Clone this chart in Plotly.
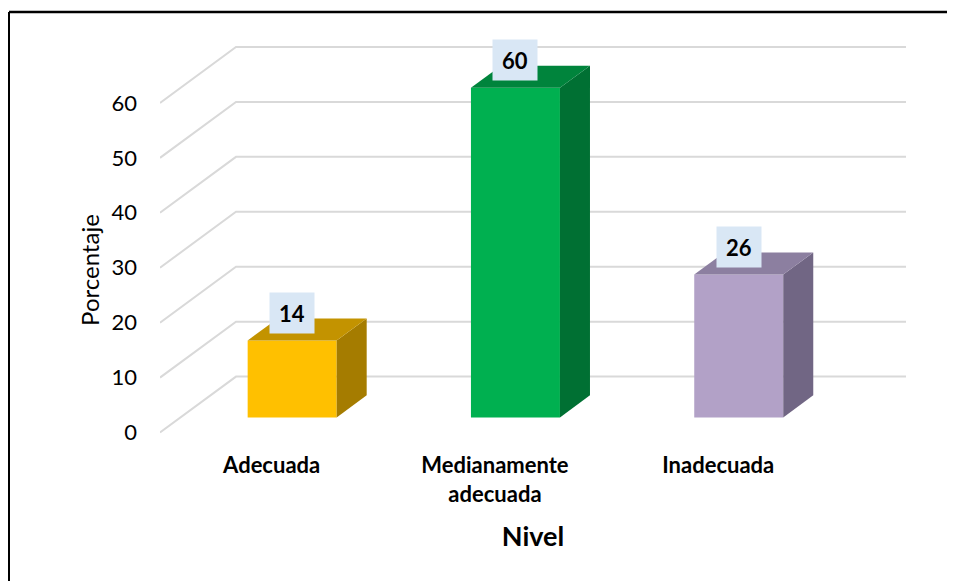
import plotly.graph_objects as go

categories = ["Adecuada", "Medianamente<br>adecuada", "Inadecuada"]
values = [14, 60, 26]
front_colors = ["#FFC000", "#00B050", "#B2A1C7"]
top_colors = ["#C39300", "#00843C", "#8C7FA0"]
side_colors = ["#A57C00", "#007033", "#716684"]
y_ticks = [0, 10, 20, 30, 40, 50, 60]
x_title = "Nivel"
y_title = "Porcentaje"

# --- geometry of the pseudo-3D scene (in axis units) ---
WALL_DX = 0.3404      # depth offset along x (category units)
WALL_DY = 10.18       # depth offset along y (value units)
BAR_FRONT = 0.27      # bar front plane, fraction of depth
BAR_BACK = 0.665      # bar back plane, fraction of depth
BAR_W = 0.3986
X_MIN, X_MAX = -0.5, 2.841
Y_MIN, Y_MAX = -1.0, 71.45

fig = go.Figure()

grid_col = "#D9D9D9"
shapes = []
# back wall gridlines + side diagonals (below all traces)
for v in y_ticks:
    shapes.append(dict(type="path", xref="x", yref="y", layer="below",
                       path="M %f,%f L %f,%f L %f,%f" % (
                           X_MIN, v, X_MIN + WALL_DX, v + WALL_DY,
                           X_MAX, v + WALL_DY),
                       line=dict(color=grid_col, width=2)))

fdx, fdy = WALL_DX * BAR_FRONT, WALL_DY * BAR_FRONT
ddx = WALL_DX * (BAR_BACK - BAR_FRONT)
ddy = WALL_DY * (BAR_BACK - BAR_FRONT)

for i, v in enumerate(values):
    xc = i + fdx
    xl, xr = xc - BAR_W / 2, xc + BAR_W / 2
    b = fdy
    # side face
    fig.add_trace(go.Scatter(
        x=[xr, xr + ddx, xr + ddx, xr, xr],
        y=[b, b + ddy, b + v + ddy, b + v, b],
        mode="lines", fill="toself", fillcolor=side_colors[i],
        line=dict(width=0, color=side_colors[i]),
        hoverinfo="skip", showlegend=False))
    # top face
    fig.add_trace(go.Scatter(
        x=[xl, xl + ddx, xr + ddx, xr, xl],
        y=[b + v, b + v + ddy, b + v + ddy, b + v, b + v],
        mode="lines", fill="toself", fillcolor=top_colors[i],
        line=dict(width=0, color=top_colors[i]),
        hoverinfo="skip", showlegend=False))
    # front face
    fig.add_trace(go.Bar(x=[xc], y=[v], base=[b], width=[BAR_W],
                         marker=dict(color=front_colors[i], line=dict(width=0)),
                         hoverinfo="skip", showlegend=False))
    fig.add_annotation(x=xc, y=b + v, yshift=28, text="<b>%d</b>" % v,
                       showarrow=False, bgcolor="#D9E7F5",
                       font=dict(family="Lato", size=22, color="black"),
                       width=36, height=32, borderpad=4)

fig.add_annotation(xref="paper", yref="y", x=0, xshift=-70, y=29.6,
                   xanchor="center", yanchor="middle",
                   text=y_title, textangle=-90, showarrow=False,
                   font=dict(family="Lato", size=24, color="black"))

# outer frame (top and left edges visible)
ML = 152
PW = 746
fx = (1 - ML) / PW
fy = 1 + 28 / 398.5
shapes += [
    dict(type="line", xref="paper", yref="paper",
         x0=fx, x1=1.2, y0=fy, y1=fy, line=dict(color="black", width=2.5)),
    dict(type="line", xref="paper", yref="paper",
         x0=fx, x1=fx, y0=fy, y1=-0.5, line=dict(color="black", width=2)),
]

fig.update_layout(
    width=955, height=581,
    margin=dict(l=ML, r=955 - ML - PW, t=32, b=150.5),
    paper_bgcolor="white", plot_bgcolor="white",
    font=dict(family="Lato", color="black"),
    barmode="overlay",
    xaxis=dict(range=[X_MIN, X_MAX], tickvals=[0, 1, 2],
               ticktext=["<b>%s</b>" % c for c in categories],
               tickfont=dict(size=22, family="Lato"),
               showgrid=False, zeroline=False, showline=False,
               ticks="", ticklabelstandoff=12,
               title=dict(text="<b>%s</b>" % x_title,
                          font=dict(size=27, family="Lato"), standoff=21)),
    yaxis=dict(range=[Y_MIN, Y_MAX], tickvals=y_ticks,
               tickfont=dict(size=22, family="Lato"),
               showgrid=False, zeroline=False, showline=False,
               ticks="", ticklabelstandoff=22),
    shapes=shapes,
)

fig.write_html("out.html")
